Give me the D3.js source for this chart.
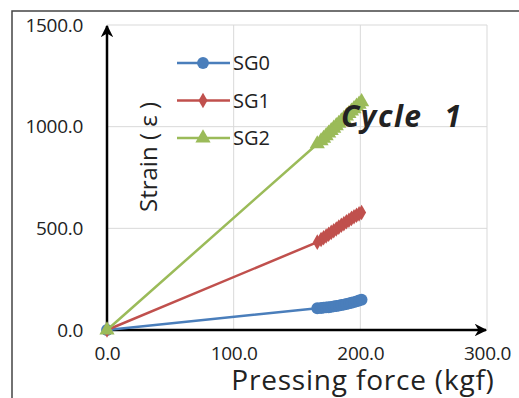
<!DOCTYPE html>
<html>
<head>
<meta charset="utf-8">
<script src="https://cdn.jsdelivr.net/npm/d3@7"></script>
<style>
  body { margin: 0; background: #fff; }
  text { font-family: "Open Sans", "Noto Sans", sans-serif; fill: #222; }
</style>
</head>
<body>
<div id="chart-area"></div>
<script>
// Series data
const force = [0, 166, 169, 171, 173, 175, 177, 179, 181, 183, 185, 187, 189, 191, 193, 195, 197, 199, 201];
const sg0 = [0, 107, 108, 110, 111, 112, 114, 116, 118, 120, 123, 125, 128, 131, 134, 137, 141, 145, 149];
const sg1 = [0, 432, 445, 454, 462, 471, 480, 488, 497, 506, 515, 523, 532, 540, 549, 557, 564, 571, 578];
const sg2 = [0, 915, 930, 942, 955, 968, 980, 992, 1004, 1016, 1028, 1040, 1052, 1064, 1076, 1088, 1100, 1110, 1122];
const seriesNames = ['SG0', 'SG1', 'SG2'];
const seriesColors = ['#4a7ebb', '#c0504d', '#9bbb59'];
const xTicks = [0, 100, 200, 300];
const yTicks = [0, 500, 1000, 1500];

const WIDTH = 519, HEIGHT = 398;
const MARGIN = {LEFT: 107, TOP: 25, RIGHT: 32, BOTTOM: 68};
const wGraph = WIDTH - MARGIN.LEFT - MARGIN.RIGHT;
const hGraph = HEIGHT - MARGIN.TOP - MARGIN.BOTTOM;

const svg = d3.select('#chart-area').append('svg')
    .attr('width', WIDTH)
    .attr('height', HEIGHT);

// outer frame (left and top edges visible)
svg.append('path')
    .attr('d', `M12,${HEIGHT} L12,11 L${WIDTH},11`)
    .attr('fill', 'none')
    .attr('stroke', '#444')
    .attr('stroke-width', 1.5);

const g = svg.append('g')
    .attr('transform', `translate(${MARGIN.LEFT},${MARGIN.TOP})`);

const x = d3.scaleLinear().domain([0, 300]).range([0, wGraph]);
const y = d3.scaleLinear().domain([0, 1500]).range([hGraph, 0]);

// gridlines
g.append('g').selectAll('line').data(xTicks.slice(1)).enter().append('line')
    .attr('x1', d => x(d)).attr('x2', d => x(d))
    .attr('y1', 0).attr('y2', hGraph)
    .attr('stroke', '#d9d9d9').attr('stroke-width', 1);
g.append('g').selectAll('line').data(yTicks.slice(1)).enter().append('line')
    .attr('x1', 0).attr('x2', wGraph)
    .attr('y1', d => y(d)).attr('y2', d => y(d))
    .attr('stroke', '#d9d9d9').attr('stroke-width', 1);

// tick labels through axes
const fmt = d => d.toFixed(1);
const yAxis = g.append('g')
    .call(d3.axisLeft(y).tickValues(yTicks).tickFormat(fmt).tickSize(0).tickPadding(24));
const xAxis = g.append('g')
    .attr('transform', `translate(0,${hGraph})`)
    .call(d3.axisBottom(x).tickValues(xTicks).tickFormat(fmt).tickSize(0).tickPadding(17));
[yAxis, xAxis].forEach(a => {
    a.select('.domain').remove();
    a.selectAll('text')
        .attr('font-family', '"Open Sans", sans-serif')
        .attr('font-size', '19px')
        .attr('letter-spacing', '-0.3px')
        .attr('fill', '#404040');
});

// arrow axes
const defs = svg.append('defs');
defs.append('marker')
    .attr('id', 'arrow')
    .attr('viewBox', '0 0 10 10')
    .attr('refX', 9).attr('refY', 5)
    .attr('markerWidth', 5).attr('markerHeight', 5)
    .attr('markerUnits', 'strokeWidth')
    .attr('orient', 'auto')
    .append('path').attr('d', 'M0,0 L10,5 L0,10 L3,5 Z').attr('fill', '#000');

g.append('line')
    .attr('x1', 0).attr('y1', hGraph).attr('x2', 0).attr('y2', 1)
    .attr('stroke', '#000').attr('stroke-width', 2.5)
    .attr('marker-end', 'url(#arrow)');
g.append('line')
    .attr('x1', 0).attr('y1', hGraph).attr('x2', wGraph - 1).attr('y2', hGraph)
    .attr('stroke', '#000').attr('stroke-width', 2.5)
    .attr('marker-end', 'url(#arrow)');

// series
const allSeries = [sg0, sg1, sg2];
const line = d3.line().x((d, i) => x(force[i])).y(d => y(d));
const symbols = [d3.symbolCircle, d3.symbolDiamond, d3.symbolTriangle];
const symSizes = [110, 70, 100];

allSeries.forEach((vals, k) => {
    g.append('path')
        .datum(vals)
        .attr('d', line)
        .attr('fill', 'none')
        .attr('stroke', seriesColors[k])
        .attr('stroke-width', 2.5);
    g.append('g').selectAll('path').data(vals).enter().append('path')
        .attr('transform', (d, i) => `translate(${x(force[i])},${y(d)})`)
        .attr('d', d3.symbol().type(symbols[k]).size(symSizes[k]))
        .attr('fill', seriesColors[k]);
});

// legend
const legend = svg.append('g');
seriesNames.forEach((name, k) => {
    const ly = 63 + k * 37.5;
    legend.append('line')
        .attr('x1', 177).attr('x2', 230).attr('y1', ly).attr('y2', ly)
        .attr('stroke', seriesColors[k]).attr('stroke-width', 2.5);
    legend.append('path')
        .attr('transform', `translate(203,${ly})`)
        .attr('d', d3.symbol().type(symbols[k]).size(symSizes[k]))
        .attr('fill', seriesColors[k]);
    legend.append('text')
        .attr('x', 233).attr('y', ly + 7)
        .attr('font-size', '20px')
        .attr('fill', '#333')
        .text(name);
});

// axis titles
svg.append('text')
    .attr('transform', 'translate(157,157) rotate(-90)')
    .attr('text-anchor', 'middle')
    .attr('font-size', '24px')
    .attr('fill', '#111')
    .style('white-space', 'pre')
    .text('Strain ( ε )');

svg.append('text')
    .attr('x', 363).attr('y', 390)
    .attr('text-anchor', 'middle')
    .attr('font-size', '28px')
    .attr('letter-spacing', '0.8px')
    .attr('fill', '#222')
    .text('Pressing force (kgf)');

const cycle = svg.append('g')
    .attr('font-size', '30px')
    .attr('font-weight', 'bold')
    .attr('font-style', 'italic');
cycle.append('text').attr('x', 341).attr('y', 127).attr('letter-spacing', '1.5px').attr('fill', '#000').text('Cycle');
cycle.append('text').attr('x', 461).attr('y', 127).attr('text-anchor', 'end').attr('fill', '#000').text('1');
</script>
</body>
</html>
